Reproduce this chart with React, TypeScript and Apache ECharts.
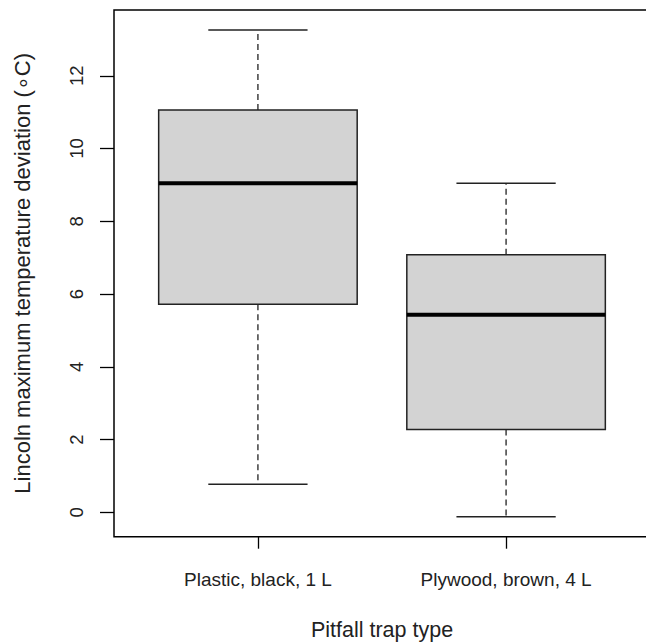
import React, { useEffect, useRef } from "react";
import * as echarts from "echarts";

const categories = ["Plastic, black, 1 L", "Plywood, brown, 4 L"];
const positions = [1, 2];
const whiskerLow = [0.77, -0.12];
const quartile1 = [5.72, 2.28];
const medians = [9.05, 5.43];
const quartile3 = [11.06, 7.08];
const whiskerHigh = [13.26, 9.05];
const yTicks = [0, 2, 4, 6, 8, 10, 12];
const xTitle = "Pitfall trap type";
const yTitle = "Lincoln maximum temperature deviation (\u2218C)";

const FONT = "'Liberation Sans', Arial, sans-serif";
const BOX_HALF = 0.4;
const CAP_HALF = 0.2;

export default function App() {
  const ref = useRef<HTMLDivElement>(null);
  useEffect(() => {
    if (!ref.current) return;
    const chart = echarts.init(ref.current, null, { renderer: "svg" });
    const data = positions.map((p, i) => [
      p,
      whiskerLow[i],
      quartile1[i],
      medians[i],
      quartile3[i],
      whiskerHigh[i],
    ]);
    const option: any = {
      animation: false,
      backgroundColor: "#ffffff",
      grid: {
        left: 114,
        top: 10,
        right: 10,
        bottom: 642 - 536.7,
        outerBoundsMode: "none",
        containLabel: false,
        show: true,
        borderColor: "#000",
        borderWidth: 1.5,
        backgroundColor: "transparent",
      },
      xAxis: {
        type: "value",
        min: 0.42,
        max: 2.58,
        splitLine: { show: false },
        axisLine: { show: false, onZero: false },
        axisTick: {
          show: true,
          customValues: positions,
          length: 12,
          lineStyle: { color: "#000", width: 1.3 },
        },
        axisLabel: {
          customValues: positions,
          formatter: (v: number) => categories[Math.round(v) - 1] ?? "",
          margin: 33,
          fontSize: 19,
          fontFamily: FONT,
          color: "#222",
        },
        name: xTitle,
        nameLocation: "middle",
        nameGap: 82,
        nameTextStyle: { fontSize: 21.5, fontFamily: FONT, color: "#222" },
      },
      yAxis: {
        type: "value",
        min: -0.67,
        max: 13.81,
        splitLine: { show: false },
        axisLine: { show: false, onZero: false },
        axisTick: {
          show: true,
          customValues: yTicks,
          length: 14,
          lineStyle: { color: "#000", width: 1.3 },
        },
        axisLabel: {
          customValues: yTicks,
          rotate: 90,
          margin: 28,
          fontSize: 18.5,
          fontFamily: FONT,
          color: "#222",
        },
        name: yTitle,
        nameLocation: "middle",
        nameGap: 81,
        nameTextStyle: { fontSize: 22, fontFamily: FONT, color: "#222" },
      },
      series: [
        {
          type: "custom",
          clip: false,
          data,
          encode: { x: 0, y: [1, 2, 3, 4, 5] },
          renderItem: (params: any, api: any) => {
            const x = api.value(0);
            const lo = api.value(1);
            const q1 = api.value(2);
            const med = api.value(3);
            const q3 = api.value(4);
            const hi = api.value(5);
            const pLo = api.coord([x, lo]);
            const pQ1 = api.coord([x, q1]);
            const pMed = api.coord([x, med]);
            const pQ3 = api.coord([x, q3]);
            const pHi = api.coord([x, hi]);
            const boxHalf = api.size([BOX_HALF, 0])[0];
            const capHalf = api.size([CAP_HALF, 0])[0];
            const cx = pMed[0];
            const lineStyle = { stroke: "#222", lineWidth: 1.5, fill: null };
            const dashStyle = {
              stroke: "#222",
              lineWidth: 1.3,
              lineDash: [6, 4],
              fill: null,
            };
            return {
              type: "group",
              children: [
                {
                  type: "line",
                  shape: { x1: cx, y1: pQ3[1], x2: cx, y2: pHi[1] },
                  style: dashStyle,
                },
                {
                  type: "line",
                  shape: { x1: cx, y1: pQ1[1], x2: cx, y2: pLo[1] },
                  style: dashStyle,
                },
                {
                  type: "line",
                  shape: {
                    x1: cx - capHalf,
                    y1: pHi[1],
                    x2: cx + capHalf,
                    y2: pHi[1],
                  },
                  style: lineStyle,
                },
                {
                  type: "line",
                  shape: {
                    x1: cx - capHalf,
                    y1: pLo[1],
                    x2: cx + capHalf,
                    y2: pLo[1],
                  },
                  style: lineStyle,
                },
                {
                  type: "rect",
                  shape: {
                    x: cx - boxHalf,
                    y: pQ3[1],
                    width: boxHalf * 2,
                    height: pQ1[1] - pQ3[1],
                  },
                  style: { fill: "#d3d3d3", stroke: "#222", lineWidth: 1.5 },
                },
                {
                  type: "line",
                  shape: {
                    x1: cx - boxHalf,
                    y1: pMed[1],
                    x2: cx + boxHalf,
                    y2: pMed[1],
                  },
                  style: { stroke: "#000", lineWidth: 4 },
                },
              ],
            };
          },
        },
      ],
    };
    chart.setOption(option);
    return () => chart.dispose();
  }, []);
  return (
    <div
      style={{
        position: "fixed",
        left: 0,
        top: 0,
        width: 646,
        height: 642,
        overflow: "hidden",
      }}
    >
      <div ref={ref} style={{ width: 660, height: 642 }} />
    </div>
  );
}
